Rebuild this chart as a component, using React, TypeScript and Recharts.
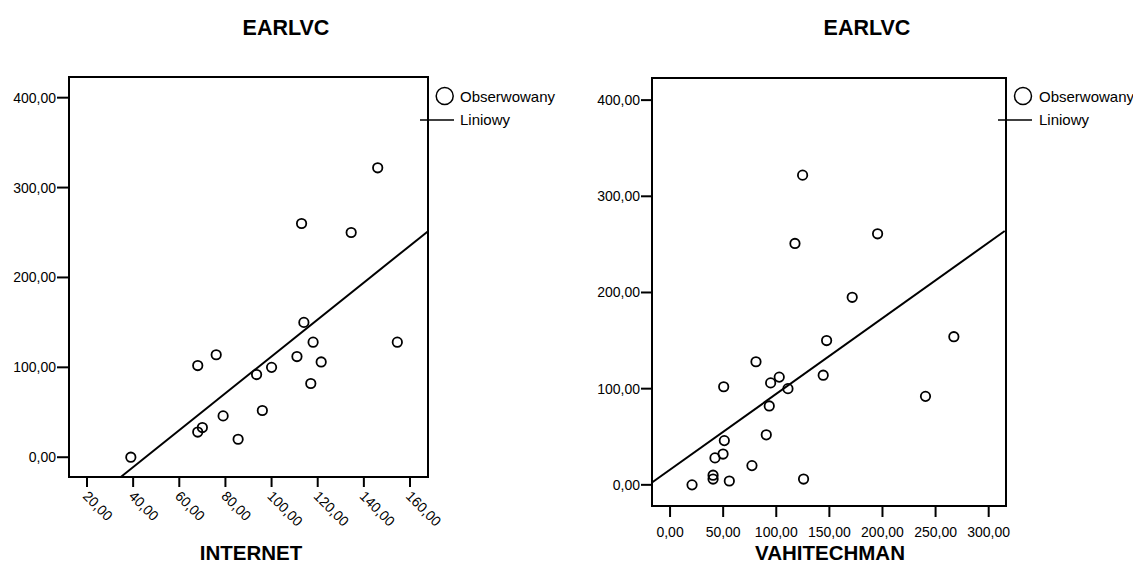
import { ScatterChart, Scatter, XAxis, YAxis, ReferenceArea, ReferenceLine } from "recharts";

const FONT = '"Liberation Sans", Arial, sans-serif';

// left panel: INTERNET vs EARLVC
const internetX = [39, 68, 76, 70, 68, 79, 85.5, 93.5, 100, 96, 111, 114, 118, 121.5, 117, 154.5, 146, 113, 134.5];
const earlvcA = [0, 102, 114, 33, 28, 46, 20, 92, 100, 52, 112, 150, 128, 106, 82, 128, 322, 260, 250];
const internetTicks = [20, 40, 60, 80, 100, 120, 140, 160];
const fitA = [
    { x: 34.65, y: -22 },
    { x: 167.7, y: 251.2 },
];

// right panel: VAHITECHMAN vs EARLVC
const vahitechX = [20.7, 40.5, 40.5, 55.8, 42.3, 49.9, 51.1, 50.5, 77.1, 80.9, 90.6, 93.4, 94.7, 102.8, 111, 125.7, 144.2, 147.4, 171.5, 124.8, 117.6, 195.4, 267.2, 240.5];
const earlvcB = [0, 10, 6, 4, 28, 32, 46, 102, 20, 128, 52, 82, 106, 112, 100, 6, 114, 150, 195, 322, 251, 261, 154, 92];
const vahitechTicks = [0, 50, 100, 150, 200, 250, 300];
const fitB = [
    { x: -17, y: 2.4 },
    { x: 315.1, y: 263.9 },
];

const earlvcTicks = [0, 100, 200, 300, 400];

const fmt = (v: number) => v.toFixed(2).replace(".", ",");

const pointsA = internetX.map((x, i) => ({ x, y: earlvcA[i] }));
const pointsB = vahitechX.map((x, i) => ({ x, y: earlvcB[i] }));

const Dot = (p: any) => <circle cx={p.cx} cy={p.cy} r={4.7} fill="none" stroke="#000" strokeWidth={1.8} />;

const SlantTick = (p: any) => {
    const x = p.x + 2;
    const y = p.y;
    return (
        <text x={x} y={y} dy="0.71em" transform={`rotate(45 ${x} ${y})`} textAnchor="start" fontSize={14} fill="#000" fontFamily={FONT}>
            {fmt(p.payload.value)}
        </text>
    );
};

const tickStyle = { fontSize: 14, fill: "#000", fontFamily: FONT };
const axisLine = { stroke: "#000", strokeWidth: 2 };

function Legend({ cx, lx, tx }: { cx: number; lx: number; tx: number }) {
    return (
        <g fontFamily={FONT} fontSize={15} fill="#000">
            <circle cx={cx} cy={96} r={8.5} fill="none" stroke="#000" strokeWidth={1.5} />
            <text x={tx} y={102}>Obserwowany</text>
            <line x1={lx} x2={lx + 34} y1={120} y2={120} stroke="#000" strokeWidth={1.5} />
            <text x={tx} y={125}>Liniowy</text>
        </g>
    );
}

export default function App() {
    return (
        <div style={{ position: "absolute", left: 0, top: 0, width: 1133, height: 566, background: "#fff" }}>
            <div style={{ position: "absolute", left: 0, top: 0 }}>
                <ScatterChart width={566} height={566} margin={{ top: 77, right: 138, bottom: 29, left: 0 }}>
                    <XAxis type="number" dataKey="x" domain={[12.2, 167.8]} ticks={internetTicks} allowDataOverflow
                        height={60} tickSize={10} tickMargin={3} tick={<SlantTick />} axisLine={axisLine}
                        tickLine={{ stroke: "#000", strokeWidth: 2 }} />
                    <YAxis type="number" dataKey="y" domain={[-22, 423]} ticks={earlvcTicks} allowDataOverflow
                        width={69} tickSize={12} tickMargin={1} tickFormatter={fmt} tick={tickStyle} axisLine={axisLine}
                        tickLine={{ stroke: "#000", strokeWidth: 2 }} />
                    <ReferenceArea x1={12.2} x2={167.8} y1={-22} y2={423} fill="none" stroke="#000" strokeWidth={2} fillOpacity={0} />
                    <ReferenceLine segment={fitA} stroke="#000" strokeWidth={2} />
                    <Scatter data={pointsA} shape={Dot} isAnimationActive={false} />
                </ScatterChart>
            </div>
            <div style={{ position: "absolute", left: 566, top: 0 }}>
                <ScatterChart width={567} height={566} margin={{ top: 78, right: 127, bottom: 20, left: 0 }}>
                    <XAxis type="number" dataKey="x" domain={[-17, 316.3]} ticks={vahitechTicks} allowDataOverflow
                        height={40} tickSize={11} tickMargin={10} tickFormatter={fmt} tick={tickStyle} axisLine={axisLine}
                        tickLine={{ stroke: "#000", strokeWidth: 2 }} />
                    <YAxis type="number" dataKey="y" domain={[-22, 423]} ticks={earlvcTicks} allowDataOverflow
                        width={86} tickSize={11} tickMargin={1} tickFormatter={fmt} tick={tickStyle} axisLine={axisLine}
                        tickLine={{ stroke: "#000", strokeWidth: 2 }} />
                    <ReferenceArea x1={-17} x2={316.3} y1={-22} y2={423} fill="none" stroke="#000" strokeWidth={2} fillOpacity={0} />
                    <ReferenceLine segment={fitB} stroke="#000" strokeWidth={2} />
                    <Scatter data={pointsB} shape={Dot} isAnimationActive={false} />
                </ScatterChart>
            </div>
            <svg width={1133} height={566} style={{ position: "absolute", left: 0, top: 0, pointerEvents: "none" }}>
                <g fontFamily={FONT} fontWeight="bold" fill="#000" textAnchor="middle">
                    <text x={286} y={35} fontSize={21.5}>EARLVC</text>
                    <text x={867} y={35} fontSize={21.5}>EARLVC</text>
                    <text x={251} y={560} fontSize={20.5}>INTERNET</text>
                    <text x={830} y={560} fontSize={20.5}>VAHITECHMAN</text>
                </g>
                <Legend cx={444.7} lx={420} tx={460} />
                <Legend cx={1023} lx={998} tx={1039} />
            </svg>
        </div>
    );
}
